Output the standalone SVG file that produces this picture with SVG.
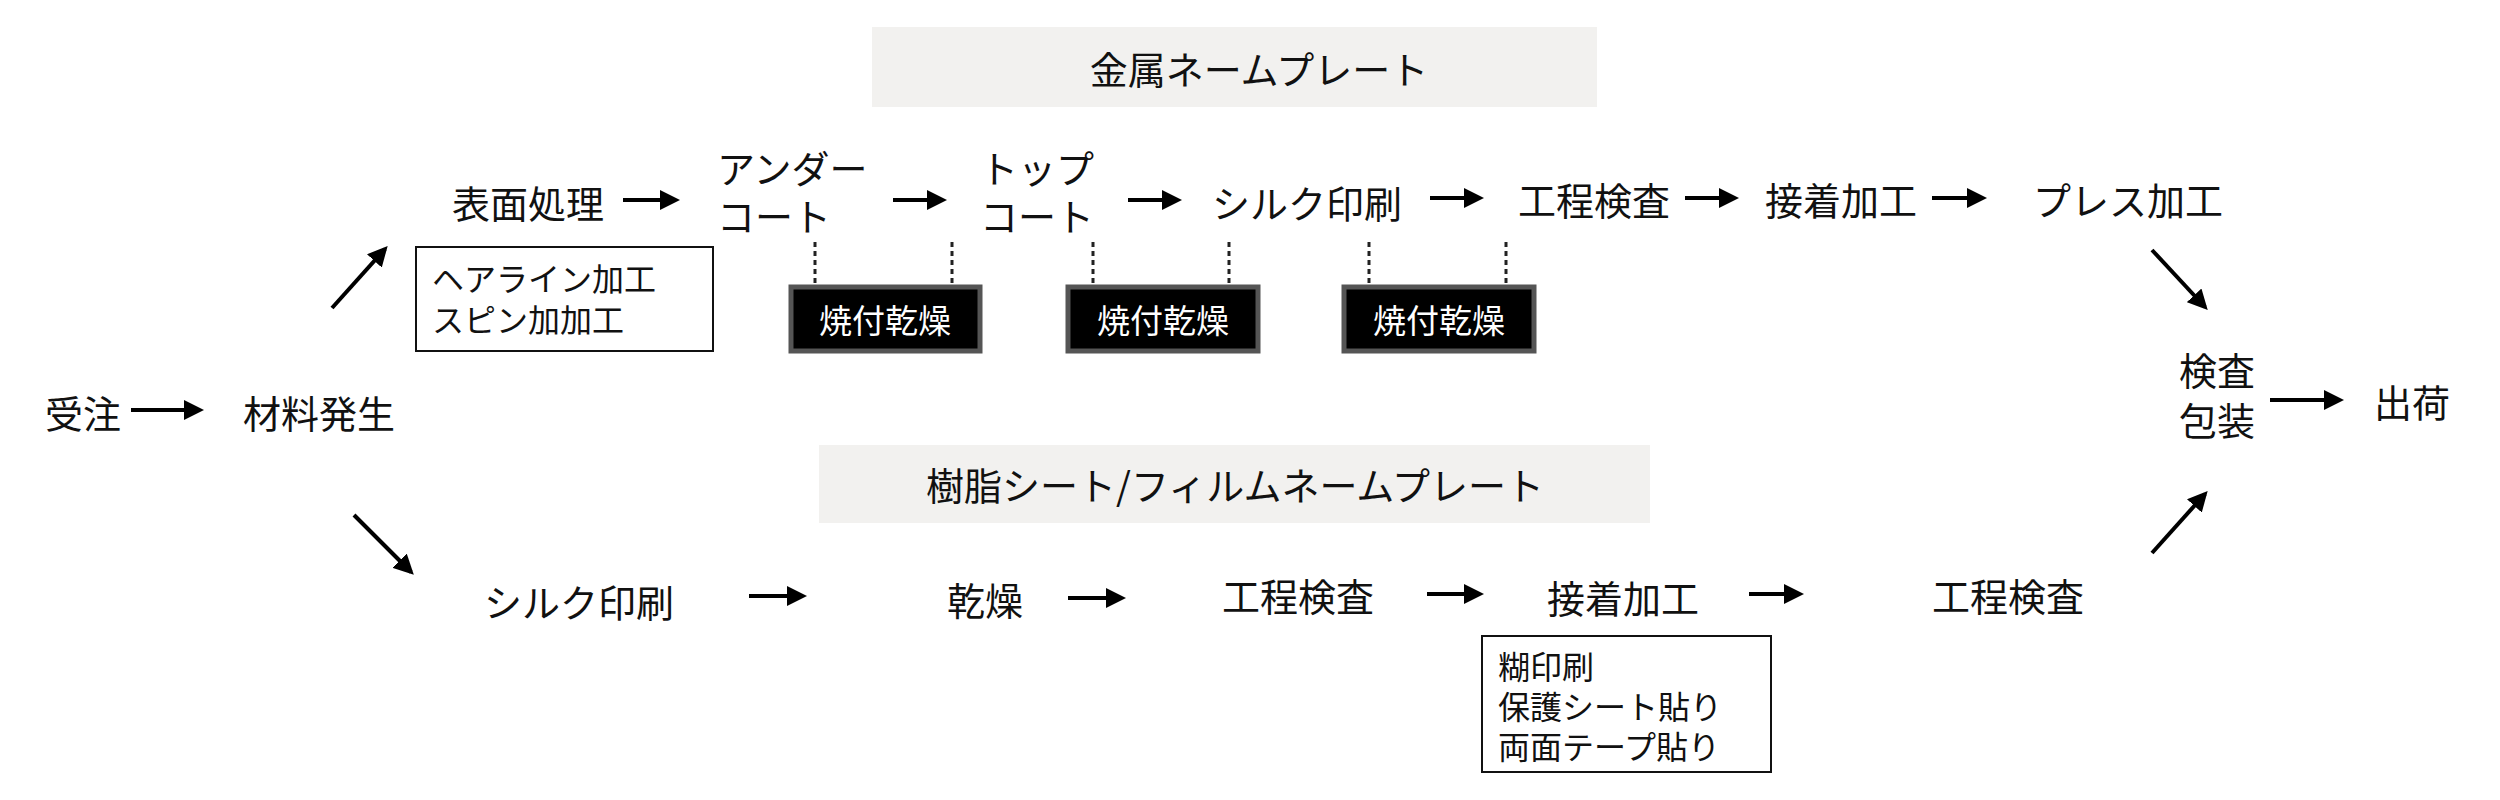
<svg xmlns="http://www.w3.org/2000/svg" width="2500" height="800" viewBox="0 0 2500 800">
<style>
text{font-family:"Noto Sans CJK JP","Noto Sans",sans-serif;fill:#111;font-size:38px}
.m{text-anchor:middle;dominant-baseline:central}
.s{font-size:32px;dominant-baseline:central}
.w{fill:#fff;font-size:33px}
.band{fill:#f2f1ef}
.box{fill:#fff;stroke:#111;stroke-width:2}
.blk{fill:#000;stroke:#555;stroke-width:5}
.a{stroke:#000;stroke-width:4;fill:none;marker-end:url(#ah)}
.d{stroke:#222;stroke-width:3;stroke-dasharray:5 4}
</style>
<defs><marker id="ah" markerWidth="5" markerHeight="5" refX="4" refY="2.5" orient="auto" markerUnits="strokeWidth"><path d="M0,0L5,2.5L0,5z" fill="#000"/></marker></defs>
<rect width="2500" height="800" fill="#fff"/>
<g id="title-metal"><rect class="band" x="872" y="27" width="725" height="80"/><text class="m" x="1259" y="67">金属ネームプレート</text></g>
<g id="title-resin"><rect class="band" x="819" y="445" width="831" height="78"/><text class="m" x="1235" y="483">樹脂シート/フィルムネームプレート</text></g>
<g id="n-juchu"><text class="m" x="83" y="411">受注</text></g>
<g id="n-zairyo"><text class="m" x="319" y="411">材料発生</text></g>
<g id="n-hyomen"><text class="m" x="528" y="201">表面処理</text></g>
<g id="n-under"><text x="717" y="166" dominant-baseline="central">アンダー</text><text x="717" y="214" dominant-baseline="central">コート</text></g>
<g id="n-top"><text x="980" y="166" dominant-baseline="central">トップ</text><text x="980" y="214" dominant-baseline="central">コート</text></g>
<g id="n-silk1"><text class="m" x="1307" y="201">シルク印刷</text></g>
<g id="n-kensa1"><text class="m" x="1594" y="198">工程検査</text></g>
<g id="n-setchaku1"><text class="m" x="1841" y="198">接着加工</text></g>
<g id="n-press"><text class="m" x="2128" y="198">プレス加工</text></g>
<g id="n-hairline"><rect class="box" x="416" y="247" width="297" height="104"/><text class="s" x="432" y="277">ヘアライン加工</text><text class="s" x="432" y="318">スピン加加工</text></g>
<g id="n-yaki1"><rect class="blk" x="791" y="287" width="189" height="64"/><text class="m w" x="885" y="319">焼付乾燥</text></g>
<g id="n-yaki2"><rect class="blk" x="1068" y="287" width="190" height="64"/><text class="m w" x="1163" y="319">焼付乾燥</text></g>
<g id="n-yaki3"><rect class="blk" x="1344" y="287" width="190" height="64"/><text class="m w" x="1439" y="319">焼付乾燥</text></g>
<g id="n-kenpo"><text class="m" x="2217" y="368">検査</text><text class="m" x="2217" y="418">包装</text></g>
<g id="n-shukka"><text class="m" x="2412" y="400">出荷</text></g>
<g id="n-silk2"><text class="m" x="579" y="600">シルク印刷</text></g>
<g id="n-kanso"><text class="m" x="985" y="598">乾燥</text></g>
<g id="n-kensa2"><text class="m" x="1298" y="594">工程検査</text></g>
<g id="n-setchaku2"><text class="m" x="1623" y="596">接着加工</text></g>
<g id="n-kensa3"><text class="m" x="2008" y="594">工程検査</text></g>
<g id="n-nori"><rect class="box" x="1482" y="636" width="289" height="136"/><text class="s" x="1498" y="665">糊印刷</text><text class="s" x="1498" y="705">保護シート貼り</text><text class="s" x="1498" y="745">両面テープ貼り</text></g>
<g id="connectors">
<line class="a" x1="131" y1="410" x2="200" y2="410"/>
<line class="a" x1="332" y1="308" x2="385" y2="249"/>
<line class="a" x1="354" y1="515" x2="411" y2="572"/>
<line class="a" x1="623" y1="200" x2="676" y2="200"/>
<line class="a" x1="893" y1="200" x2="943" y2="200"/>
<line class="a" x1="1128" y1="200" x2="1178" y2="200"/>
<line class="a" x1="1430" y1="198" x2="1480" y2="198"/>
<line class="a" x1="1685" y1="198" x2="1735" y2="198"/>
<line class="a" x1="1932" y1="198" x2="1983" y2="198"/>
<line class="a" x1="2152" y1="250" x2="2205" y2="307"/>
<line class="a" x1="2152" y1="553" x2="2205" y2="494"/>
<line class="a" x1="2270" y1="400" x2="2340" y2="400"/>
<line class="a" x1="749" y1="596" x2="803" y2="596"/>
<line class="a" x1="1068" y1="598" x2="1122" y2="598"/>
<line class="a" x1="1427" y1="594" x2="1480" y2="594"/>
<line class="a" x1="1749" y1="594" x2="1800" y2="594"/>
<line class="d" x1="815" y1="242" x2="815" y2="285"/>
<line class="d" x1="952" y1="242" x2="952" y2="285"/>
<line class="d" x1="1093" y1="242" x2="1093" y2="285"/>
<line class="d" x1="1229" y1="242" x2="1229" y2="285"/>
<line class="d" x1="1369" y1="242" x2="1369" y2="285"/>
<line class="d" x1="1506" y1="242" x2="1506" y2="285"/>
</g>
</svg>
